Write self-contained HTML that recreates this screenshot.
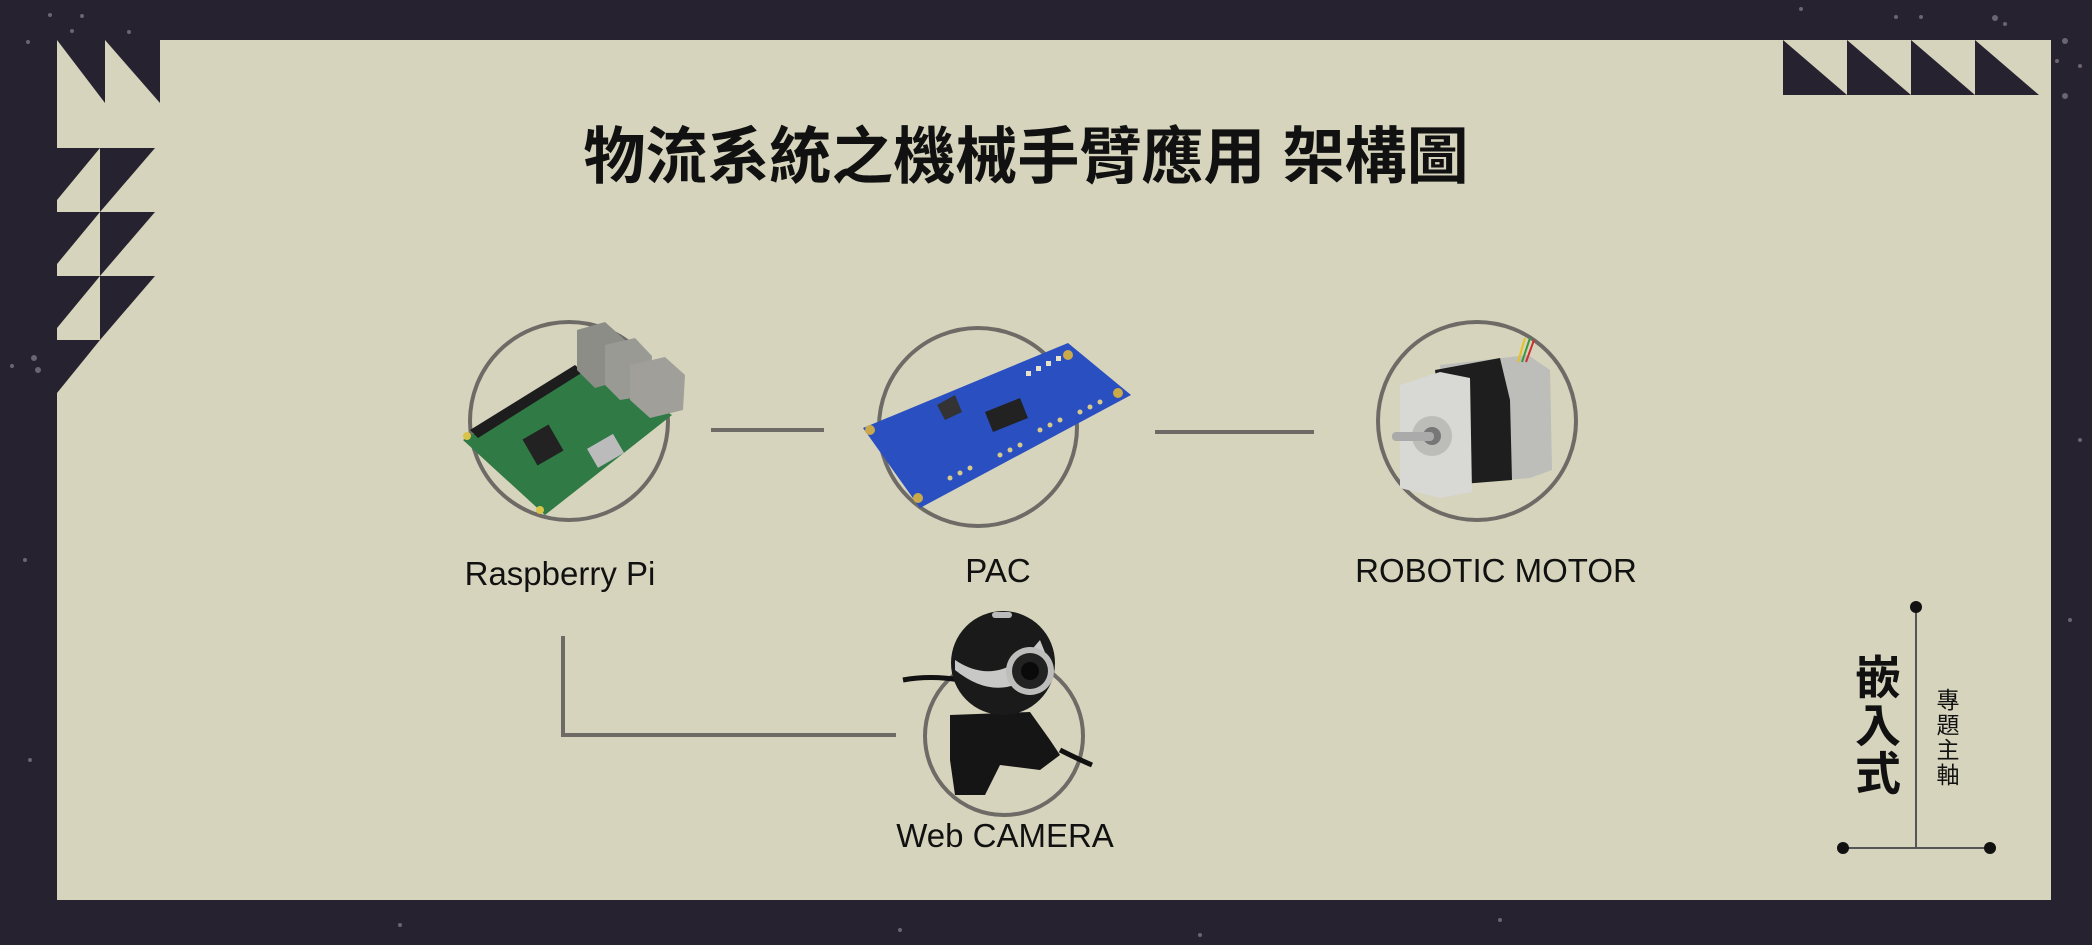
<!DOCTYPE html>
<html><head><meta charset="utf-8"><style>
html,body{margin:0;padding:0;background:#27222f;}
svg{display:block}
</style></head><body>
<svg width="2092" height="945" viewBox="0 0 2092 945" xmlns="http://www.w3.org/2000/svg">
<rect width="2092" height="945" fill="#27222f"/>
<g fill="#6a6570">
<circle cx="50" cy="15" r="2"/><circle cx="82" cy="16" r="2"/><circle cx="72" cy="31" r="2"/><circle cx="129" cy="32" r="2"/><circle cx="28" cy="42" r="2"/>
<circle cx="34" cy="358" r="3"/><circle cx="38" cy="370" r="3"/><circle cx="12" cy="366" r="2"/>
<circle cx="1801" cy="9" r="2"/><circle cx="1896" cy="17" r="2"/><circle cx="1921" cy="17" r="2"/><circle cx="1995" cy="18" r="3"/><circle cx="2005" cy="24" r="2"/><circle cx="2065" cy="41" r="3"/><circle cx="2057" cy="61" r="2"/><circle cx="2065" cy="96" r="3"/><circle cx="2080" cy="66" r="2"/>
<circle cx="2080" cy="440" r="2"/><circle cx="2070" cy="620" r="2"/><circle cx="25" cy="560" r="2"/><circle cx="30" cy="760" r="2"/><circle cx="400" cy="925" r="2"/><circle cx="900" cy="930" r="2"/><circle cx="1500" cy="920" r="2"/><circle cx="1200" cy="935" r="2"/>
</g>
<rect x="57" y="40" width="1994" height="860" fill="#d6d4bd"/>
<g fill="#27222f">
<polygon points="57,40 105,40 105,103"/>
<polygon points="105,40 160,40 160,103"/>
<polygon points="57,148 100,148 57,200"/><polygon points="100,148 155,148 100,212"/>
<polygon points="57,212 100,212 57,264"/><polygon points="100,212 155,212 100,276"/>
<polygon points="57,276 100,276 57,328"/><polygon points="100,276 155,276 100,340"/>
<polygon points="57,340 100,340 57,393"/>
</g>
<g fill="#27222f">
<polygon points="1783,40 1783,95 1847,95"/>
<polygon points="1847,40 1847,95 1911,95"/>
<polygon points="1911,40 1911,95 1975,95"/>
<polygon points="1975,40 1975,95 2039,95"/>
</g>
<text x="1026" y="178" text-anchor="middle" font-family="'Liberation Sans','Noto Sans CJK TC',sans-serif" font-weight="bold" font-size="62" fill="#111">物流系統之機械手臂應用 架構圖</text>

<g stroke="#6e6a66" stroke-width="4" fill="none">
<line x1="711" y1="430" x2="824" y2="430"/>
<line x1="1155" y1="432" x2="1314" y2="432"/>
<polyline points="563,636 563,735 896,735"/>
<circle cx="569" cy="421" r="99"/>
<circle cx="978" cy="427" r="99"/>
<circle cx="1477" cy="421" r="99"/>
<circle cx="1004" cy="736" r="79"/>
</g>

<g>
<polygon points="463,440 585,365 672,415 545,515" fill="#2f7a45"/>
<polygon points="470,430 575,365 583,372 478,438" fill="#1d1d1d"/>
<rect x="528" y="430" width="30" height="30" fill="#222" transform="rotate(-30 543 445)"/>
<polygon points="577,330 605,322 625,340 622,380 595,388 577,370" fill="#8d8d88"/>
<polygon points="605,345 635,338 652,356 650,395 620,400 605,385" fill="#9a9a95"/>
<polygon points="630,365 665,357 685,375 683,410 650,418 630,400" fill="#a09f99"/>
<rect x="590" y="440" width="30" height="22" fill="#bbb" transform="rotate(-30 605 450)"/>
<circle cx="467" cy="436" r="4" fill="#d9c44a"/><circle cx="540" cy="510" r="4" fill="#d9c44a"/>
</g>

<g>
<polygon points="863,428 1068,343 1131,395 920,508" fill="#2a4fc0"/>
<polygon points="985,412 1020,398 1028,418 993,432" fill="#222"/>
<polygon points="937,405 955,395 962,412 945,420" fill="#333"/>
<circle cx="1068" cy="355" r="5" fill="#c9a94a"/><circle cx="1118" cy="393" r="5" fill="#c9a94a"/><circle cx="870" cy="430" r="5" fill="#c9a94a"/><circle cx="918" cy="498" r="5" fill="#c9a94a"/>
<g fill="#d7c98a">
<circle cx="1040" cy="430" r="2.5"/><circle cx="1050" cy="425" r="2.5"/><circle cx="1060" cy="420" r="2.5"/><circle cx="1080" cy="412" r="2.5"/><circle cx="1090" cy="407" r="2.5"/><circle cx="1100" cy="402" r="2.5"/>
<circle cx="1000" cy="455" r="2.5"/><circle cx="1010" cy="450" r="2.5"/><circle cx="1020" cy="445" r="2.5"/><circle cx="950" cy="478" r="2.5"/><circle cx="960" cy="473" r="2.5"/><circle cx="970" cy="468" r="2.5"/>
</g>
<g fill="#e8e2c8"><rect x="1026" y="371" width="5" height="5"/><rect x="1036" y="366" width="5" height="5"/><rect x="1046" y="361" width="5" height="5"/><rect x="1056" y="356" width="5" height="5"/></g>
</g>

<g>
<polygon points="1440,365 1528,355 1550,370 1552,470 1530,478 1445,485" fill="#bdbdba"/>
<polygon points="1435,370 1500,358 1510,400 1512,480 1450,485" fill="#1e1e1e"/>
<polygon points="1400,385 1440,372 1470,378 1472,492 1440,498 1400,488" fill="#d8d8d4"/>
<circle cx="1432" cy="436" r="20" fill="#bcbcb8"/><circle cx="1432" cy="436" r="9" fill="#777"/>
<rect x="1392" y="432" width="42" height="9" rx="4" fill="#aaa"/>
<g stroke-width="2" fill="none"><path d="M1518 362 L1525 338" stroke="#e8c020"/><path d="M1522 362 L1530 338" stroke="#3a9a3a"/><path d="M1526 362 L1534 340" stroke="#d03030"/></g>
</g>

<g>
<path d="M960 680 Q930 675 903 680" stroke="#111" stroke-width="5" fill="none"/>
<path d="M1060 750 Q1080 760 1092 765" stroke="#111" stroke-width="5" fill="none"/>
<rect x="993" y="700" width="24" height="22" fill="#1a1a1a"/>
<polygon points="950,715 1030,712 1050,740 1060,755 1040,770 1000,765 985,795 955,795 950,760" fill="#151515"/>
<circle cx="1003" cy="663" r="52" fill="#1a1a1a"/>
<path d="M955 660 Q1000 690 1040 640 L1048 660 Q1005 710 955 670 Z" fill="#c8c8c6"/>
<circle cx="1030" cy="671" r="24" fill="#bdbdbb"/><circle cx="1030" cy="671" r="18" fill="#222"/><circle cx="1030" cy="671" r="9" fill="#0a0a0a"/>
<rect x="992" y="612" width="20" height="6" rx="3" fill="#bbb"/>
</g>

<g font-family="'Liberation Sans',sans-serif" font-size="33" fill="#111" text-anchor="middle">
<text x="560" y="585">Raspberry Pi</text>
<text x="998" y="582">PAC</text>
<text x="1496" y="582">ROBOTIC MOTOR</text>
<text x="1005" y="847">Web CAMERA</text>
</g>

<g stroke="#555" stroke-width="2"><line x1="1916" y1="607" x2="1916" y2="848"/><line x1="1843" y1="848" x2="1990" y2="848"/></g>
<g fill="#111"><circle cx="1916" cy="607" r="6"/><circle cx="1843" cy="848" r="6"/><circle cx="1990" cy="848" r="6"/></g>
<g font-family="'Noto Sans CJK TC',sans-serif" font-weight="bold" font-size="46" fill="#111" text-anchor="middle">
<text x="1878" y="694">嵌</text><text x="1878" y="742">入</text><text x="1878" y="790">式</text>
</g>
<g font-family="'Noto Sans CJK TC',sans-serif" font-size="23" fill="#111" text-anchor="middle">
<text x="1948" y="708">專</text><text x="1948" y="733">題</text><text x="1948" y="758">主</text><text x="1948" y="783">軸</text>
</g>
</svg>
</body></html>
